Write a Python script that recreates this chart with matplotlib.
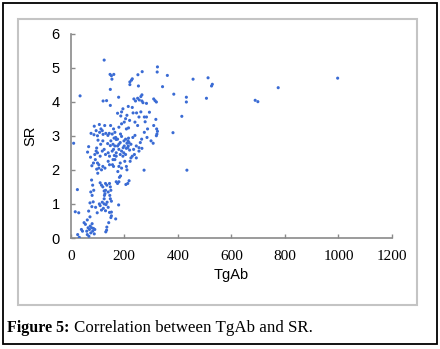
import matplotlib
matplotlib.use("Agg")
import matplotlib.pyplot as plt
from matplotlib.patches import Rectangle

# TgAb (x) and SR (y) values
tgab = [35, 11, 125, 147, 152, 161, 154, 148, 121, 134, 148, 179, 195, 190, 175, 187,
        88, 107, 76, 87, 127, 149, 121, 131, 139, 144, 162, 168, 170, 186, 190, 138, 148, 67, 63, 97, 102,
        199, 205, 210, 214, 218, 216, 208, 213, 220, 198, 196,
        208, 216, 232, 240,
        221, 227, 230, 221, 251, 267, 253, 236, 242, 250, 256, 262, 266, 266, 270, 230, 215, 233, 246,
        283, 294, 283, 318, 310, 315, 320, 324, 323, 361, 343, 385, 321, 324, 322, 320, 308, 382, 415,
        432, 432, 457, 507, 513, 526, 529, 775, 689, 699, 997, 278, 287, 266, 274, 434,
        25, 17, 30, 26, 32, 44, 40, 50, 55, 62, 72, 67, 79, 72, 84,
        65, 70, 75, 78, 82, 85, 88, 62, 60, 68, 73, 80, 90,
        99, 93, 107, 110, 118, 125, 115, 122, 130, 140, 136, 132, 145, 152, 150, 152, 135, 134, 131, 142, 168, 179,
        79, 74, 78, 82, 75, 80, 86, 97, 105, 101, 110, 115, 120, 130, 135, 125, 130, 140, 145, 148, 150, 146, 148,
        152, 126, 128, 125, 170, 175, 180, 182, 186, 206, 213, 218, 210, 208, 202, 176, 180, 185, 190, 156, 160,
        158, 163, 120, 128, 115, 105, 225, 230, 222, 238, 245, 255,
        90, 95, 100, 110, 118, 125, 130, 140, 145, 155, 160, 165, 170, 175, 180, 185, 190, 195, 112, 120, 150,
        158, 175, 180, 85, 92, 100, 140, 145, 165, 170, 185, 200, 205, 215, 225, 235, 245, 260, 255, 265,
        100, 108, 113, 95, 118, 155, 160, 165, 180, 190, 200, 210, 205, 220, 250, 255, 262, 240, 275, 285, 300,
        310, 275]
sr = [4.17, 2.78, 5.22, 4.80, 4.76, 4.80, 4.66, 4.36, 4.02, 4.03, 3.89, 4.13, 3.79, 3.70, 3.66, 3.58,
      3.28, 3.33, 3.07, 3.03, 3.30, 3.30, 3.04, 3.07, 3.01, 3.07, 2.93, 2.95, 2.89, 3.05, 2.98, 2.77, 2.71, 2.68, 2.52, 2.64, 2.87,
      2.85, 2.90, 2.78, 2.85, 2.80, 2.93, 2.63, 2.65, 2.58, 2.50, 2.65,
      3.20, 3.23, 2.95, 3.01,
      4.58, 4.63, 4.67, 4.50, 4.79, 4.88, 4.46, 4.08, 4.02, 4.10, 4.05, 4.15, 4.20, 4.02, 3.97, 3.83, 3.86, 3.67, 3.67,
      3.95, 3.69, 3.55, 3.48, 4.08, 4.03, 3.99, 5.02, 4.87, 4.77, 4.44, 4.22, 3.20, 3.13, 3.05, 3.00, 2.78, 3.09, 3.57,
      4.13, 3.99, 4.66, 4.10, 4.70, 4.46, 4.51, 4.41, 4.04, 4.00, 4.69, 3.41, 3.20, 2.63, 1.99, 1.99,
      1.42, 0.77, 0.74, 0.10, 0.02, 0.20, 0.25, 0.45, 0.40, 0.53, 0.62, 0.79, 0.92, 1.03, 1.06,
      0.30, 0.25, 0.15, 0.30, 0.20, 0.28, 0.12, 0.10, 0.20, 0.05, 0.35, 0.42, 0.25,
      0.74, 0.90, 1.00, 0.95, 1.05, 1.00, 0.82, 0.87, 0.80, 0.90, 1.05, 0.98, 0.75, 0.76, 0.60, 0.65, 0.32, 0.23, 0.18, 0.45, 0.56, 0.97,
      2.12, 2.37, 1.70, 1.55, 1.35, 1.25, 1.40, 2.02, 2.05, 1.90, 1.62, 1.55, 1.50, 1.60, 1.55, 1.38, 1.40, 1.35, 1.60, 1.50, 1.40, 1.25, 1.15,
      1.08, 1.25, 1.30, 1.15, 1.65, 1.60, 1.65, 1.78, 1.82, 1.57, 1.60, 1.68, 2.00, 2.10, 2.25, 1.95, 2.10, 2.20, 2.05, 2.15, 2.10,
      2.30, 2.42, 2.10, 2.05, 2.00, 2.15, 2.35, 2.40, 2.25, 2.45, 2.35, 2.55,
      2.45, 2.55, 2.50, 2.40, 2.55, 2.60, 2.45, 2.50, 2.40, 2.55, 2.60, 2.70, 2.50, 2.70, 2.60, 2.80, 2.55, 2.40, 2.75, 2.85, 2.85,
      2.75, 2.90, 2.75, 2.20, 2.30, 2.20, 2.25, 2.15, 2.30, 2.40, 2.45, 2.70, 2.45, 2.70, 2.75, 2.60, 2.70, 2.80, 2.65, 2.90,
      3.00, 3.10, 3.20, 3.15, 3.15, 3.05, 3.20, 3.10, 3.25, 3.35, 3.40, 3.60, 3.50, 3.45, 3.30, 3.55, 3.70, 3.40, 3.10, 2.95, 2.85,
      3.30, 3.55]

x_ticks = [0, 200, 400, 600, 800, 1000, 1200]
y_ticks = [0, 1, 2, 3, 4, 5, 6]

W, H = 440, 349
fig = plt.figure(figsize=(W / 100, H / 100), dpi=100)

# outer black frame and inner grey chart frame
fig.patches.append(Rectangle((3 / W, 1 - 344 / H), 434 / W, 341 / H, transform=fig.transFigure,
                             fill=False, edgecolor="black", lw=1.3))
fig.patches.append(Rectangle((18 / W, 1 - 305 / H), 399 / W, 286 / H, transform=fig.transFigure,
                             fill=False, edgecolor="#c4c4c4", lw=1.5))

ax = fig.add_axes([70.7 / W, 1 - 238 / H, (392 - 70.7) / W, (238 - 33.5) / H])
ax.scatter(tgab, sr, s=5, color="#3a6bd4", edgecolors="none", zorder=3)
ax.set_xlim(0, 1200)
ax.set_ylim(0, 6)
ax.set_xticks(x_ticks)
ax.set_yticks(y_ticks)
for s in ("top", "right"):
    ax.spines[s].set_visible(False)
for s in ("left", "bottom"):
    ax.spines[s].set_color("#8a8a8a")
    ax.spines[s].set_linewidth(1.2)
ax.tick_params(axis="both", direction="in", length=3, color="#8a8a8a", width=1)
ax.tick_params(axis="y", pad=8)
ax.tick_params(axis="x", pad=9)
for lab in ax.get_yticklabels():
    lab.set_fontfamily("Liberation Sans")
    lab.set_fontsize(10.5)
for lab in ax.get_xticklabels():
    lab.set_fontfamily("Liberation Serif")
    lab.set_fontsize(11)

ax.set_ylabel("SR", fontfamily="Liberation Sans", fontsize=10.5, labelpad=10)
ax.set_xlabel("TgAb", fontfamily="Liberation Sans", fontsize=10.5, labelpad=3)

fig.text(7 / W, 1 - 328 / H, "Figure 5:", fontfamily="Liberation Serif", fontweight="bold",
         fontsize=11.5, va="center", ha="left")
fig.text(74 / W, 1 - 328 / H, "Correlation between TgAb and SR.", fontfamily="Liberation Serif",
         fontsize=12.2, va="center", ha="left")

fig.savefig("out.png", dpi=100)
